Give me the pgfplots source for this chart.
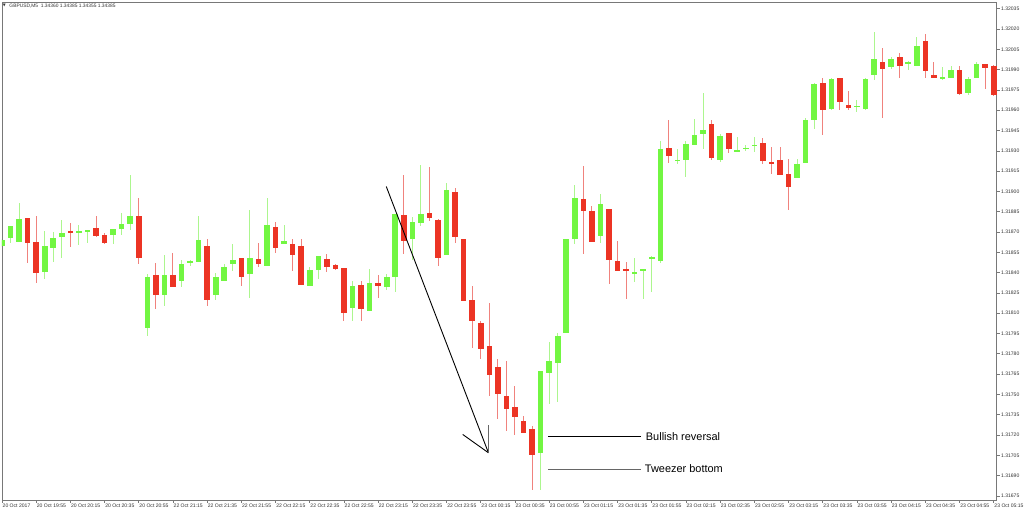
\documentclass[border=0pt]{standalone}
\usepackage{pgfplots}
\pgfplotsset{compat=1.18}
\usepackage{pgfplotstable}
\usepackage{fontspec}
\setmainfont{Liberation Sans}
\newfontfamily\djv{DejaVu Sans}
\definecolor{cgreen}{RGB}{114,246,66}
\definecolor{cred}{RGB}{236,52,36}
\definecolor{wgreen}{RGB}{172,246,142}
\definecolor{wred}{RGB}{240,130,125}
\definecolor{framegray}{RGB}{120,120,120}

% bullish (green) candles: index, open, high, low, close
\pgfplotstableread{
x o h l c
0 1.31860 1.31865 1.31859 1.31864
1 1.31865 1.31875 1.31863 1.31874
2 1.31864 1.31892 1.31863 1.31881
5 1.31841 1.31871 1.31835 1.31860
6 1.31859 1.31871 1.31849 1.31866
7 1.31867 1.31879 1.31851 1.31870
9 1.31870 1.31876 1.31861 1.31870
10 1.31871 1.31872 1.31863 1.31871
13 1.31867 1.31872 1.31862 1.31872
14 1.31873 1.31884 1.31868 1.31877
15 1.31876 1.31913 1.31872 1.31882
17 1.31800 1.31840 1.31794 1.31838
19 1.31824 1.31854 1.31816 1.31839
21 1.31835 1.31850 1.31830 1.31847
22 1.31849 1.31850 1.31846 1.31849
23 1.31849 1.31883 1.31849 1.31865
25 1.31824 1.31841 1.31821 1.31837
26 1.31835 1.31848 1.31835 1.31845
27 1.31848 1.31862 1.31842 1.31851
29 1.31840 1.31887 1.31822 1.31852
31 1.31845 1.31895 1.31845 1.31876
33 1.31861 1.31875 1.31861 1.31863
36 1.31831 1.31845 1.31831 1.31843
37 1.31842 1.31853 1.31836 1.31852
41 1.31815 1.31835 1.31805 1.31831
43 1.31813 1.31843 1.31812 1.31834
45 1.31830 1.31839 1.31827 1.31837
46 1.31838 1.31884 1.31827 1.31884
48 1.31865 1.31882 1.31850 1.31878
49 1.31877 1.31920 1.31875 1.31884
52 1.31854 1.31907 1.31854 1.31902
63 1.31707 1.31768 1.31681 1.31767
64 1.31766 1.31790 1.31744 1.31775
65 1.31774 1.31797 1.31746 1.31794
66 1.31796 1.31866 1.31796 1.31865
67 1.31866 1.31906 1.31862 1.31896
70 1.31867 1.31899 1.31863 1.31891
74 1.31841 1.31852 1.31834 1.31841
75 1.31842 1.31843 1.31822 1.31843
76 1.31852 1.31853 1.31826 1.31853
77 1.31849 1.31938 1.31848 1.31932
79 1.31924 1.31932 1.31921 1.31924
80 1.31923 1.31938 1.31912 1.31935
81 1.31935 1.31954 1.31935 1.31943
82 1.31944 1.31974 1.31932 1.31947
84 1.31924 1.31944 1.31923 1.31942
86 1.31932 1.31942 1.31931 1.31932
87 1.31933 1.31936 1.31931 1.31933
88 1.31935 1.31941 1.31930 1.31935
93 1.31911 1.31925 1.31911 1.31921
94 1.31922 1.31955 1.31922 1.31954
95 1.31953 1.31980 1.31946 1.31980
97 1.31961 1.31985 1.31961 1.31983
100 1.31963 1.31968 1.31959 1.31963
101 1.31962 1.31985 1.31961 1.31984
102 1.31986 1.32019 1.31983 1.31998
104 1.31993 1.32000 1.31991 1.31999
106 1.31995 1.31998 1.31991 1.31995
107 1.31994 1.32014 1.31994 1.32009
110 1.31984 1.31993 1.31983 1.31985
111 1.31985 1.31993 1.31985 1.31991
113 1.31974 1.31985 1.31972 1.31984
114 1.31985 1.31996 1.31985 1.31995
}\greencandles

% bearish (red) candles: index, open, high, low, close
\pgfplotstableread{
x o h l c
3 1.31880 1.31880 1.31848 1.31862
4 1.31863 1.31883 1.31834 1.31840
8 1.31871 1.31877 1.31859 1.31869
11 1.31873 1.31883 1.31867 1.31867
12 1.31868 1.31870 1.31862 1.31862
16 1.31883 1.31896 1.31847 1.31852
18 1.31840 1.31847 1.31813 1.31825
20 1.31840 1.31856 1.31831 1.31831
24 1.31862 1.31865 1.31816 1.31822
28 1.31851 1.31851 1.31831 1.31837
30 1.31851 1.31862 1.31844 1.31847
32 1.31875 1.31879 1.31856 1.31860
34 1.31862 1.31865 1.31841 1.31854
35 1.31861 1.31866 1.31832 1.31832
38 1.31851 1.31854 1.31841 1.31845
39 1.31846 1.31846 1.31842 1.31843
40 1.31844 1.31844 1.31805 1.31811
42 1.31832 1.31834 1.31805 1.31814
44 1.31833 1.31839 1.31822 1.31831
47 1.31883 1.31914 1.31855 1.31864
50 1.31885 1.31919 1.31879 1.31881
51 1.31880 1.31880 1.31845 1.31852
53 1.31901 1.31903 1.31862 1.31868
54 1.31866 1.31866 1.31820 1.31820
55 1.31821 1.31830 1.31784 1.31805
56 1.31804 1.31805 1.31777 1.31785
57 1.31786 1.31817 1.31748 1.31765
58 1.31771 1.31776 1.31732 1.31751
59 1.31750 1.31775 1.31723 1.31740
60 1.31741 1.31757 1.31721 1.31733
61 1.31732 1.31735 1.31723 1.31723
62 1.31726 1.31728 1.31681 1.31707
68 1.31895 1.31919 1.31854 1.31886
69 1.31887 1.31889 1.31863 1.31864
71 1.31887 1.31887 1.31832 1.31849
72 1.31850 1.31863 1.31843 1.31843
73 1.31844 1.31849 1.31822 1.31842
78 1.31933 1.31954 1.31922 1.31927
83 1.31950 1.31954 1.31924 1.31925
85 1.31943 1.31943 1.31930 1.31931
89 1.31936 1.31941 1.31922 1.31923
90 1.31922 1.31933 1.31913 1.31921
91 1.31924 1.31933 1.31913 1.31913
92 1.31914 1.31924 1.31886 1.31904
96 1.31981 1.31985 1.31943 1.31961
98 1.31984 1.31984 1.31961 1.31966
99 1.31965 1.31975 1.31961 1.31963
103 1.31996 1.32006 1.31954 1.31991
105 1.32000 1.32004 1.31985 1.31994
108 1.32012 1.32018 1.31986 1.31990
109 1.31987 1.31996 1.31985 1.31985
112 1.31991 1.31993 1.31972 1.31973
115 1.31995 1.31995 1.31977 1.31992
116 1.31993 1.31994 1.31971 1.31972
}\redcandles

\begin{document}
\begin{tikzpicture}
\fill[white] (0,0) rectangle (1024bp,515bp);
\begin{axis}[
  at={(2bp,14.5bp)}, anchor=south west,
  scale only axis, width=996bp, height=498.5bp,
  xmin=0, xmax=116.36, ymin=1.31672, ymax=1.32040,
  axis line style={framegray, line width=0.8bp},
  xtick={0,4,...,116},
  xticklabels={20 Oct 2017, 20 Oct 19:55, 20 Oct 20:15, 20 Oct 20:35, 20 Oct 20:55, 22 Oct 21:15, 22 Oct 21:35, 22 Oct 21:55, 22 Oct 22:15, 22 Oct 22:35, 22 Oct 22:55, 22 Oct 23:15, 22 Oct 23:35, 22 Oct 23:55, 23 Oct 00:15, 23 Oct 00:35, 23 Oct 00:55, 23 Oct 01:15, 23 Oct 01:35, 23 Oct 01:55, 23 Oct 02:15, 23 Oct 02:35, 23 Oct 02:55, 23 Oct 03:15, 23 Oct 03:35, 23 Oct 03:55, 23 Oct 04:15, 23 Oct 04:35, 23 Oct 04:55, 23 Oct 05:15},
  ytick={1.31675,1.31690,1.31705,1.31720,1.31735,1.31750,1.31765,1.31780,1.31795,1.31810,1.31825,1.31840,1.31855,1.31870,1.31885,1.31900,1.31915,1.31930,1.31945,1.31960,1.31975,1.31990,1.32005,1.32020,1.32035},
  yticklabels={1.31675,1.31690,1.31705,1.31720,1.31735,1.31750,1.31765,1.31780,1.31795,1.31810,1.31825,1.31840,1.31855,1.31870,1.31885,1.31900,1.31915,1.31930,1.31945,1.31960,1.31975,1.31990,1.32005,1.32020,1.32035},
  xtick pos=bottom, ytick pos=right, yticklabel pos=right,
  tick align=outside, major tick length=3bp,
  tick style={framegray, line width=0.6bp},
  xticklabel style={anchor=north west, font=\fontsize{5.1}{6}\selectfont, inner sep=0.5bp, text=black!80},
  yticklabel style={anchor=west, font=\fontsize{5.1}{6}\selectfont, inner sep=1bp, text=black!80},
  clip=true,
]
% wicks
\addplot[draw=none, mark=none, forget plot, error bars/.cd, y dir=both, y explicit, error mark=none,
  error bar style={draw=wgreen, line width=1bp}]
  table[x=x, y expr={(\thisrow{h}+\thisrow{l})/2}, y error expr={(\thisrow{h}-\thisrow{l})/2}] {\greencandles};
\addplot[draw=none, mark=none, forget plot, error bars/.cd, y dir=both, y explicit, error mark=none,
  error bar style={draw=wred, line width=1bp}]
  table[x=x, y expr={(\thisrow{h}+\thisrow{l})/2}, y error expr={(\thisrow{h}-\thisrow{l})/2}] {\redcandles};
% bodies
\addplot[draw=none, mark=none, forget plot, error bars/.cd, y dir=both, y explicit, error mark=none,
  error bar style={draw=cgreen, line width=5.6bp}]
  table[x=x, y expr={(\thisrow{o}+\thisrow{c})/2}, y error expr={max(abs(\thisrow{o}-\thisrow{c})/2,0.0000045)}] {\greencandles};
\addplot[draw=none, mark=none, forget plot, error bars/.cd, y dir=both, y explicit, error mark=none,
  error bar style={draw=cred, line width=5.6bp}]
  table[x=x, y expr={(\thisrow{o}+\thisrow{c})/2}, y error expr={max(abs(\thisrow{o}-\thisrow{c})/2,0.0000045)}] {\redcandles};
\end{axis}
% annotations
\draw[black, line width=0.9bp] (386.7bp,328.3bp) -- (489bp,61.7bp);
\draw[black, line width=0.9bp] (463.3bp,80bp) -- (489bp,61.7bp);
\draw[black!60, line width=1.3bp] (489bp,89bp) -- (489bp,61.7bp);
\draw[black, line width=0.9bp] (549bp,77.7bp) -- (642bp,77.7bp);
\draw[black!60, line width=1.3bp] (549bp,45bp) -- (642bp,45bp);
\node[anchor=west, inner sep=0, font=\fontsize{11}{12}\selectfont] at (646.5bp,78.3bp) {Bullish reversal};
\node[anchor=west, inner sep=0, font=\fontsize{11}{12}\selectfont] at (645.5bp,45.7bp) {Tweezer bottom};
% title
\node[anchor=west, inner sep=0, font=\djv\fontsize{3.8}{4}\selectfont, text=black!80] at (2.8bp,509.3bp) {▼};
\node[anchor=west, inner sep=0, font=\fontsize{4.9}{5}\selectfont, text=black!80] at (9.3bp,509.3bp) {GBPUSD,M5\ \ 1.34360 1.34385 1.34355 1.34385};
\end{tikzpicture}
\end{document}
